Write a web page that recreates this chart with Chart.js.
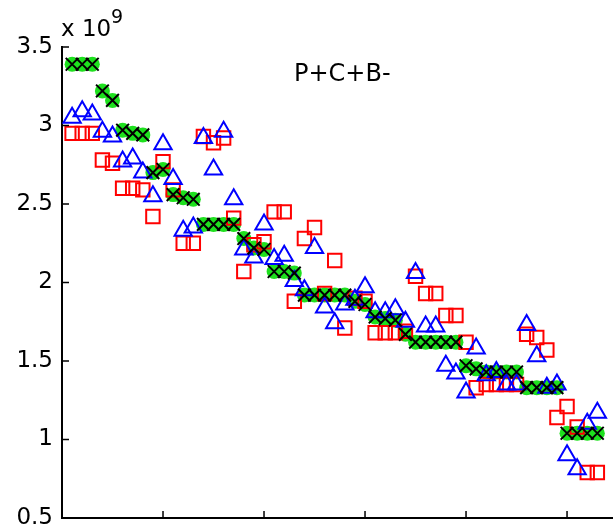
<!DOCTYPE html>
<html lang="en">

<head>
    <meta charset="UTF-8">
    <title>P+C+B-</title>
    <script src="https://cdn.jsdelivr.net/npm/chart.js"></script>
    <style>
        body { margin: 0; background: #fff; }
        .wrap { position: relative; width: 613px; height: 530px; }
        .lbl { position: absolute; font-family: 'DejaVu Sans', sans-serif; line-height: 1; color: #000; white-space: nowrap; }
    </style>
</head>

<body>
    <div class="wrap">
        <canvas id="chart" width="613" height="530"></canvas>
        <span class="lbl" style="left:61px; top:17px; font-size:23px;">x 10</span>
        <span class="lbl" style="left:111px; top:7px; font-size:19px;">9</span>
        <span class="lbl" style="left:294px; top:61px; font-size:24px;">P+C+B-</span>
    </div>

    <script>
        // sample index (x) and values in units of 1e9
        const xIndex = [1, 2, 3, 4, 5, 6, 7, 8, 9, 10, 11, 12, 13, 14, 15, 16, 17, 18, 19, 20,
            21, 22, 23, 24, 25, 26, 27, 28, 29, 30, 31, 32, 33, 34, 35, 36, 37, 38, 39, 40,
            41, 42, 43, 44, 45, 46, 47, 48, 49, 50, 51, 52, 53];

        // green dots / black crosses
        const greenVals = [3.39, 3.39, 3.39, 3.22, 3.16, 2.97, 2.95, 2.94, 2.70, 2.72,
            2.56, 2.54, 2.53, 2.37, 2.37, 2.37, 2.37, 2.28, 2.22, 2.21,
            2.07, 2.07, 2.06, 1.92, 1.92, 1.92, 1.92, 1.92, 1.88, 1.86,
            1.78, 1.77, 1.76, 1.67, 1.62, 1.62, 1.62, 1.62, 1.62, 1.47,
            1.45, 1.43, 1.43, 1.43, 1.43, 1.33, 1.33, 1.33, 1.33, 1.04,
            1.04, 1.04, 1.04];

        // blue triangles
        const blueVals = [3.05, 3.09, 3.07, 2.96, 2.93, 2.77, 2.79, 2.70, 2.55, 2.88,
            2.66, 2.33, 2.35, 2.92, 2.72, 2.96, 2.53, 2.21, 2.16, 2.37,
            2.15, 2.17, 2.01, 1.95, 2.22, 1.84, 1.74, 1.86, 1.89, 1.97,
            1.81, 1.81, 1.83, 1.75, 2.06, 1.72, 1.72, 1.47, 1.42, 1.30,
            1.58, 1.41, 1.43, 1.35, 1.35, 1.73, 1.53, 1.33, 1.35, 0.90,
            0.81, 1.10, 1.17];

        // red squares
        const redVals = [2.95, 2.95, 2.95, 2.78, 2.76, 2.60, 2.60, 2.59, 2.42, 2.77,
            2.59, 2.25, 2.25, 2.93, 2.89, 2.92, 2.41, 2.07, 2.24, 2.26,
            2.45, 2.45, 1.88, 2.28, 2.35, 1.93, 2.14, 1.71, 1.90, 1.88,
            1.68, 1.68, 1.68, 1.69, 2.04, 1.93, 1.93, 1.79, 1.79, 1.62,
            1.33, 1.35, 1.35, 1.35, 1.35, 1.67, 1.65, 1.57, 1.14, 1.21,
            1.08, 0.79, 0.79];

        const yTicks = [0.5, 1, 1.5, 2, 2.5, 3, 3.5];
        const xTicks = [10, 20, 30, 40, 50];

        function toPoints(vals) {
            return vals.map((v, i) => ({ x: xIndex[i], y: v }));
        }

        // MATLAB style ticks pointing into the plot
        const innerTicks = {
            id: 'innerTicks',
            afterDraw(chart) {
                const { ctx, chartArea, scales: { x, y } } = chart;
                ctx.save();
                ctx.strokeStyle = '#000';
                ctx.lineWidth = 1.5;
                ctx.beginPath();
                x.ticks.forEach(t => {
                    const px = x.getPixelForValue(t.value);
                    ctx.moveTo(px, chartArea.bottom);
                    ctx.lineTo(px, chartArea.bottom - 7);
                });
                y.ticks.forEach(t => {
                    const py = y.getPixelForValue(t.value);
                    ctx.moveTo(chartArea.left, py);
                    ctx.lineTo(chartArea.left + 7, py);
                });
                ctx.stroke();
                ctx.restore();
            }
        };

        new Chart(document.getElementById('chart'), {
            type: 'scatter',
            data: {
                datasets: [{
                    label: 'cross',
                    data: toPoints(greenVals),
                    pointStyle: 'crossRot',
                    pointRadius: 9,
                    borderColor: '#000',
                    borderWidth: 2,
                    order: 0
                }, {
                    label: 'triangle',
                    data: toPoints(blueVals),
                    pointStyle: 'triangle',
                    pointRadius: 10,
                    borderColor: '#0000ff',
                    backgroundColor: 'rgba(0,0,0,0)',
                    borderWidth: 2,
                    order: 1
                }, {
                    label: 'square',
                    data: toPoints(redVals),
                    pointStyle: 'rect',
                    pointRadius: 9.5,
                    borderColor: '#ff0000',
                    backgroundColor: 'rgba(0,0,0,0)',
                    borderWidth: 2,
                    order: 2
                }, {
                    label: 'dot',
                    data: toPoints(greenVals),
                    pointStyle: 'circle',
                    pointRadius: 7.5,
                    borderWidth: 0,
                    backgroundColor: '#1ee01e',
                    order: 3
                }]
            },
            options: {
                responsive: false,
                animation: false,
                layout: { autoPadding: false, padding: { top: 47, right: 0, bottom: 0, left: 0 } },
                plugins: {
                    legend: { display: false },
                    tooltip: { enabled: false }
                },
                scales: {
                    x: {
                        type: 'linear',
                        min: 0,
                        max: 54.55,
                        afterBuildTicks: s => { s.ticks = xTicks.map(v => ({ value: v })); },
                        afterFit: s => { s.height = 12; s.paddingLeft = 0; s.paddingRight = 0; },
                        ticks: { display: false },
                        grid: { display: false, drawTicks: false },
                        border: { display: true, color: '#000', width: 2 }
                    },
                    y: {
                        min: 0.5,
                        max: 3.5,
                        afterBuildTicks: s => { s.ticks = yTicks.map(v => ({ value: v })); },
                        afterFit: s => { s.width = 62; s.paddingTop = 0; s.paddingBottom = 0; },
                        ticks: {
                            color: '#000',
                            padding: 9,
                            font: { family: "'DejaVu Sans'", size: 23, lineHeight: 1 },
                            callback: v => String(v)
                        },
                        grid: { display: false, drawTicks: false },
                        border: { display: true, color: '#000', width: 2 }
                    }
                }
            },
            plugins: [innerTicks]
        });
    </script>
</body>

</html>
